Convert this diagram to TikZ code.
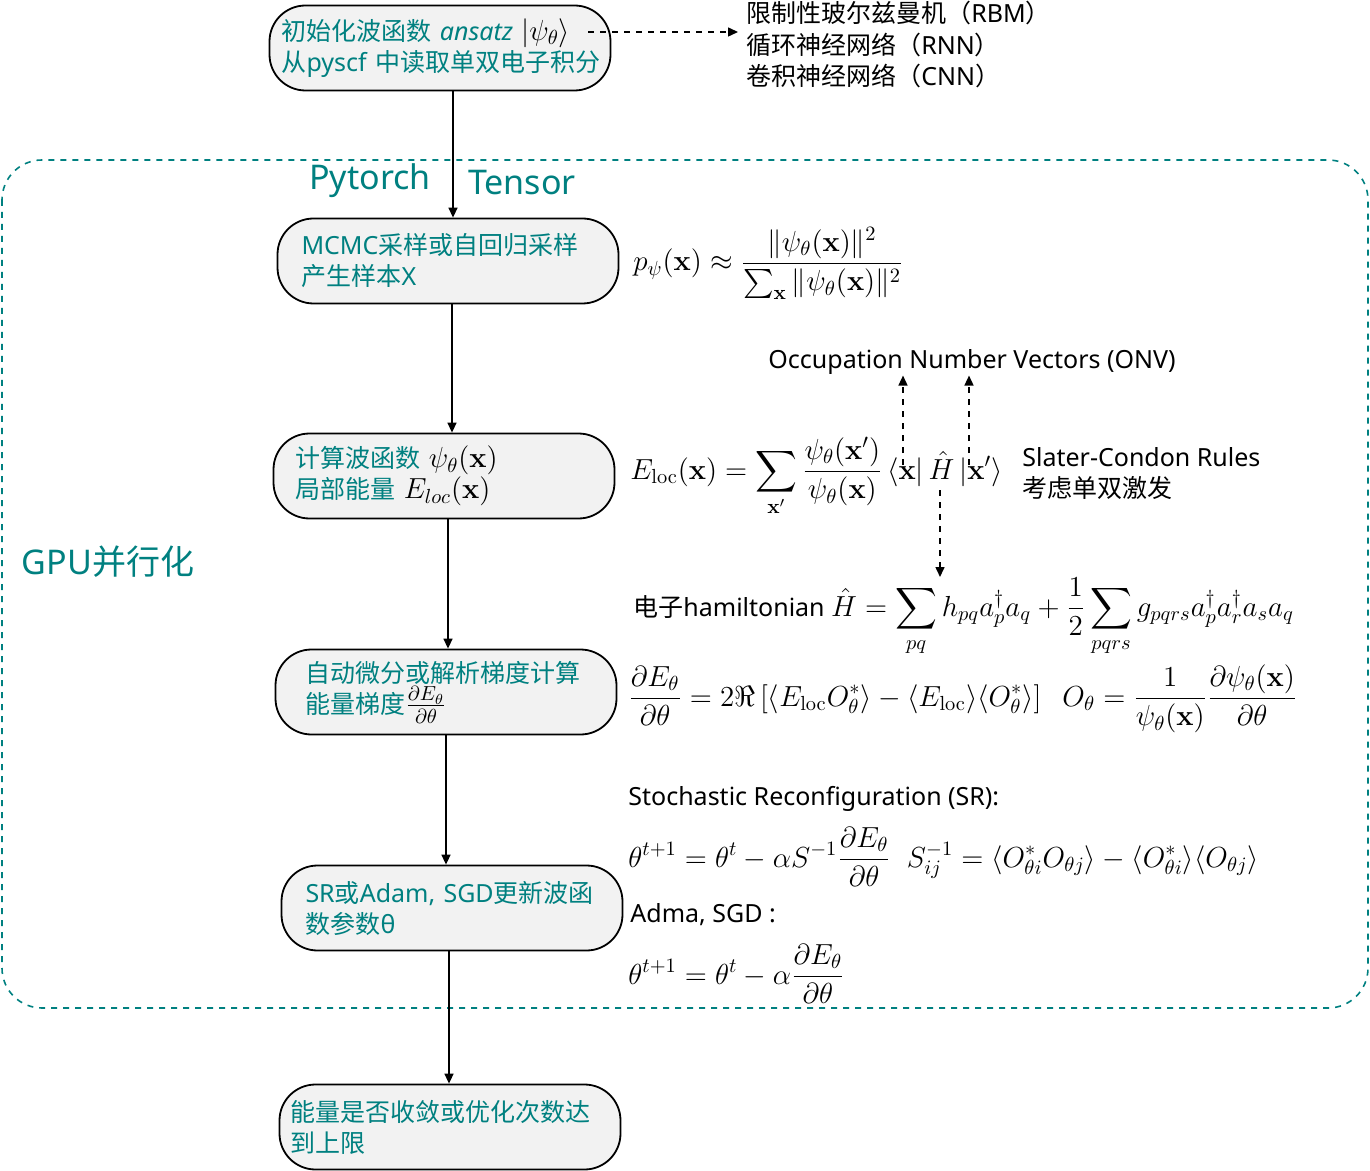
\RequirePackage{fix-cm}
\documentclass[tikz,border=0pt]{standalone}
\usepackage{amsmath, amssymb}
\usepackage[no-math]{fontspec}
\setmainfont{Noto Sans}
\newfontfamily\cjk{Noto Sans CJK SC}
\DeclareMathSizes{12.5}{14.5}{10.2}{7.3}
\usepackage{tikz}
\usetikzlibrary{arrows.meta, positioning}
\definecolor{tealtext}{RGB}{0,128,128}

\begin{document}
\begin{tikzpicture}[x=0.5pt, y=-0.5pt, >={Triangle[length=5pt, width=4.5pt]}, font=\fontsize{12.5}{15.5}\selectfont]
    \tikzset{
        flowbox/.style={draw, line width=0.9pt, fill=gray!10, rounded corners=18pt, minimum height=42.5pt,
            align=left, text=tealtext, inner xsep=12pt, text width=146.5pt},
        bigteal/.style={text=tealtext, font=\fontsize{17}{20}\selectfont},
        formula/.style={anchor=base west, inner sep=0pt},
        flow/.style={->, line width=0.75pt},
        hint/.style={->, dashed, line width=0.75pt}
    }
    \useasboundingbox (0,0) rectangle (1370,1171);

    % GPU frame
    \draw[tealtext, dashed, line width=0.8pt, rounded corners=20pt] (2,160) rectangle (1368,1008);
    \node[bigteal] (gpu) at (108,562) {GPU{\cjk 并行化}};
    \node[bigteal] (pytorch) at (370,181) {Pytorch};
    \node[bigteal] (tensor) at (522,183) {Tensor};

    % flow
    \node[flowbox, inner xsep=6pt, text width=158.5pt] (init) at (440,48) {{\cjk 初始化波函数} \textit{ansatz} \textcolor{black}{$|\psi_\theta\rangle$}\\{\cjk 从}pyscf~{\cjk 中读取单双电子积分}};
    \node[flowbox] (mcmc) at (448,261) {MCMC{\cjk 采样或自回归采样}\\{\cjk 产生样本}\textbf{X}};
    \node[flowbox, inner xsep=11pt, text width=148.5pt] (local) at (444,476) {{\cjk 计算波函数} \textcolor{black}{$\psi_\theta(\mathbf{x})$}\\{\cjk 局部能量} \textcolor{black}{$E_{loc}(\mathbf{x})$}};
    \node[flowbox, inner xsep=15pt, text width=140.5pt] (grad) at (446,692) {{\cjk 自动微分或解析梯度计算}\\{\cjk 能量梯度}\textcolor{black}{$\frac{\partial E_\theta}{\partial\theta}$}};
    \node[flowbox] (update) at (452,908) {SR{\cjk 或}Adam, SGD{\cjk 更新波函}\\{\cjk 数参数}θ};
    \node[flowbox, inner xsep=5.5pt, text width=159.5pt] (stop) at (450,1127) {{\cjk 能量是否收敛或优化次数达}\\{\cjk 到上限}};

    \draw[flow] (init.south -| 453,0) -- (mcmc.north -| 453,0);
    \draw[flow] (mcmc.south -| 452,0) -- (local.north -| 452,0);
    \draw[flow] (local.south -| 448,0) -- (grad.north -| 448,0);
    \draw[flow] (grad.south -| 446,0) -- (update.north -| 446,0);
    \draw[flow] (update.south -| 449,0) -- (stop.north -| 449,0);

    % network models
    \node[anchor=west, align=left, inner sep=0pt, font=\fontsize{12.5}{15.75}\selectfont] (models) at (746,45) {{\cjk 限制性玻尔兹曼机（}RBM{\cjk ）}\\{\cjk 循环神经网络（}RNN{\cjk ）}\\{\cjk 卷积神经网络（}CNN{\cjk ）}};
    \coordinate (ansatzend) at (588,32);
    \draw[hint] (ansatzend) -- (ansatzend -| 738,0);

    % formulas
    \node[formula] (prob) at (633,271) {$\displaystyle p_\psi(\mathbf{x}) \approx \frac{\|\psi_\theta(\mathbf{x})\|^2}{\sum_{\mathbf{x}}\|\psi_\theta(\mathbf{x})\|^2}$};
    \node (onv) at (972,362) {Occupation Number Vectors (ONV)};
    \node[formula] (eloc) at (630,479) {$\displaystyle E_{\mathrm{loc}}(\mathbf{x}) = \sum_{\mathbf{x}'} \frac{\psi_\theta(\mathbf{x}')}{\psi_\theta(\mathbf{x})}\left\langle\mathbf{x}\right|\hat{H}\left|\mathbf{x}'\right\rangle$};
    \node[anchor=west, align=left, inner sep=0pt] (slater) at (1022,474) {Slater-Condon Rules\\{\cjk 考虑单双激发}};
    \node[formula] (ham) at (633,616) {{\cjk 电子}hamiltonian $\displaystyle \hat{H} = \sum_{pq} h_{pq}a_p^\dagger a_q + \frac{1}{2}\sum_{pqrs} g_{pqrs}a_p^\dagger a_r^\dagger a_s a_q$};
    \node[formula] (dEdt) at (628,706) {$\displaystyle \frac{\partial E_\theta}{\partial\theta} = 2\Re\left[\langle E_{\mathrm{loc}}O_\theta^*\rangle - \langle E_{\mathrm{loc}}\rangle\langle O_\theta^*\rangle\right]\;\; O_\theta = \frac{1}{\psi_\theta(\mathbf{x})}\frac{\partial\psi_\theta(\mathbf{x})}{\partial\theta}$};
    \node[anchor=west, inner sep=0pt] (srlabel) at (628,799) {Stochastic Reconfiguration (SR):};
    \node[formula] (srrule) at (628,867) {$\displaystyle \theta^{t+1} = \theta^t - \alpha S^{-1}\frac{\partial E_\theta}{\partial\theta}\;\; S_{ij}^{-1} = \langle O_{\theta i}^*O_{\theta j}\rangle - \langle O_{\theta i}^*\rangle\langle O_{\theta j}\rangle$};
    \node[anchor=west, inner sep=0pt] (adlabel) at (630,915) {Adma, SGD :};
    \node[formula] (adrule) at (628,984) {$\displaystyle \theta^{t+1} = \theta^t - \alpha\frac{\partial E_\theta}{\partial\theta}$};

    % ONV / hamiltonian hints
    \coordinate (bra) at (903,465);
    \coordinate (ket) at (969,465);
    \coordinate (hop) at (940,490);
    \coordinate (hsum) at (940,577);
    \draw[hint] (bra) -- ([yshift=3pt]bra |- onv.south);
    \draw[hint] (ket) -- ([yshift=3pt]ket |- onv.south);
    \draw[hint] (hop) -- (hsum);
\end{tikzpicture}
\end{document}
